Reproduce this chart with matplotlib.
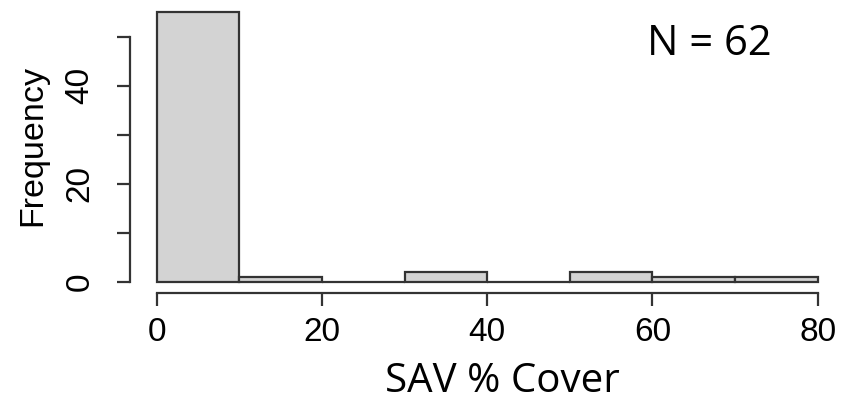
import matplotlib
matplotlib.use("Agg")
import matplotlib.pyplot as plt

bin_edges = [0, 10, 20, 30, 40, 50, 60, 70, 80]
counts = [55, 1, 0, 2, 0, 2, 1, 1]
x_ticks = [0, 20, 40, 60, 80]
y_ticks = [0, 10, 20, 30, 40, 50]
y_tick_labels = ["0", "", "20", "", "40", ""]
x_label = "SAV % Cover"
y_label = "Frequency"
n_text = "N = 62"

W, H = 841, 403
fig = plt.figure(figsize=(W / 100, H / 100), dpi=100)
left_px, right_px = 130.3, 844.1
top_px, bot_px = 1.4, 292.5
ax = fig.add_axes([left_px / W, (H - bot_px) / H, (right_px - left_px) / W, (bot_px - top_px) / H])

edge = "#333333"
lw = 1.6
widths = [bin_edges[i + 1] - bin_edges[i] for i in range(len(counts))]
ax.bar(bin_edges[:-1], counts, width=widths, align="edge", color="#D3D3D3",
       edgecolor=edge, linewidth=lw)

ax.set_xlim(-3.2, 83.2)
ax.set_ylim(-2.2, 57.2)
for s in ["top", "right"]:
    ax.spines[s].set_visible(False)
ax.spines["left"].set_bounds(0, 50)
ax.spines["bottom"].set_bounds(0, 80)
for s in ["left", "bottom"]:
    ax.spines[s].set_color(edge)
    ax.spines[s].set_linewidth(lw)

tick_font = dict(family=["Liberation Sans", "DejaVu Sans"], size=24)
ax.set_xticks(x_ticks)
ax.set_xticklabels([str(v) for v in x_ticks], fontdict=tick_font)
ax.set_yticks(y_ticks)
ax.set_yticklabels(y_tick_labels, fontdict=tick_font, rotation=90, va="center")
ax.tick_params(axis="both", length=9.4, width=lw, color=edge, direction="out")
ax.tick_params(axis="y", pad=15.5)
ax.tick_params(axis="x", pad=8.5)

fig.text(33 / W, 1 - 146 / H, y_label, rotation=90, ha="center", va="center",
         family=["Liberation Sans", "DejaVu Sans"], size=24.5)
fig.text(502 / W, (H - 392) / H, x_label, ha="center", va="baseline",
         family=["Open Sans", "DejaVu Sans"], size=29)
fig.text(647 / W, (H - 55) / H, n_text, ha="left", va="baseline",
         family=["Open Sans", "DejaVu Sans"], size=30)

fig.savefig("out.png", dpi=100)
